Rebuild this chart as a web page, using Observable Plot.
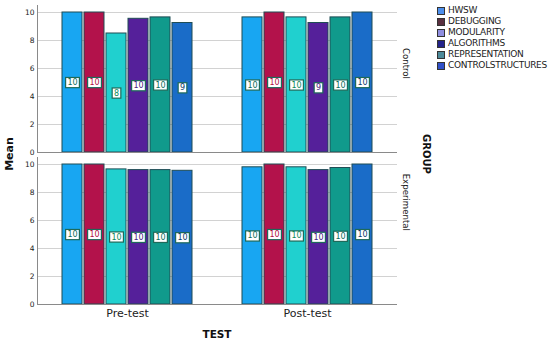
<!DOCTYPE html>
<html><head><meta charset="utf-8">
<script src="https://cdn.jsdelivr.net/npm/d3@7"></script>
<script src="https://cdn.jsdelivr.net/npm/@observablehq/plot@0.6"></script>
<style>
body{margin:0;background:#fff;}
#wrap{position:relative;width:550px;height:344px;font-family:"DejaVu Sans",sans-serif;overflow:hidden;}
.ttl{position:absolute;font-weight:bold;color:#111;white-space:nowrap;transform-origin:center center;}
#legend{position:absolute;left:437px;top:5px;font-size:9px;letter-spacing:-0.3px;color:#222;}
#legend .row{height:11px;line-height:11px;display:flex;align-items:center;white-space:nowrap;}
#legend .sw{width:8px;height:8px;border:1px solid #333;box-sizing:border-box;margin-right:3px;flex:none;}
</style></head><body><div id="wrap"></div>
<script>
const categories = ["HWSW","DEBUGGING","MODULARITY","ALGORITHMS","REPRESENTATION","CONTROLSTRUCTURES"];
const tests = ["Pre-test","Post-test"];
const groups = ["Control","Experimental"];
const controlPre = [10, 10, 8.5, 9.55, 9.65, 9.25];
const controlPost = [9.65, 10, 9.65, 9.25, 9.65, 10];
const experimentalPre = [10, 10, 9.65, 9.6, 9.6, 9.55];
const experimentalPost = [9.8, 10, 9.8, 9.6, 9.75, 10];
const controlPreN = [10, 10, 8, 10, 10, 9];
const controlPostN = [10, 10, 10, 9, 10, 10];
const experimentalPreN = [10, 10, 10, 10, 10, 10];
const experimentalPostN = [10, 10, 10, 10, 10, 10];
const yTicks = [0, 2, 4, 6, 8, 10];
const barColors = ["#18a6f2", "#b3124b", "#20d0cf", "#55209a", "#109a8c", "#1a6cc8"];
const legendColors = ["#4d8fec", "#5a3040", "#8f8ee0", "#23238a", "#4d8a9a", "#3050c8"];
const labelColors = ["#0b6b5a", "#b01040", "#0b8a5a", "#4a1a80", "#0b6b5a", "#0a3a6a"];

const series = [
  ["Control", "Pre-test", controlPre, controlPreN],
  ["Control", "Post-test", controlPost, controlPostN],
  ["Experimental", "Pre-test", experimentalPre, experimentalPreN],
  ["Experimental", "Post-test", experimentalPost, experimentalPostN]
];
const rows = [];
for (const [group, test, vals, ns] of series) {
  categories.forEach((cat, i) => rows.push({group, test, cat, mean: vals[i], n: ns[i]}));
}
const strips = groups.map(g => ({group: g, test: "Post-test"}));

const chart = Plot.plot({
  width: 550, height: 344,
  marginLeft: 36, marginRight: 153, marginTop: 5, marginBottom: 40,
  style: {fontFamily: "DejaVu Sans, sans-serif", background: "white", color: "#222"},
  fx: {domain: tests, paddingInner: 0, paddingOuter: 0, label: null},
  fy: {domain: groups, paddingInner: 0.034, paddingOuter: 0, label: null, axis: null},
  x: {domain: categories, paddingInner: 0.087, paddingOuter: 0.967, axis: null},
  y: {domain: [0, 10.5], label: null},
  color: {domain: categories, range: barColors},
  marks: [
    Plot.gridY(yTicks, {stroke: "#d2d2d2", strokeOpacity: 1}),
    Plot.barY(rows, {fx: "test", fy: "group", x: "cat", y: "mean", fill: "cat", stroke: "#1f4d55", strokeWidth: 1}),
    Plot.ruleY([0], {stroke: "#8a8a8a"}),
    Plot.frame({anchor: "left", stroke: "#8a8a8a", fx: "Pre-test"}),
    Plot.axisY(yTicks, {anchor: "left", tickSize: 0, tickPadding: 3, fontSize: 7.5, label: null}),
    Plot.axisFx({anchor: "bottom", tickSize: 0, tickPadding: 5, fontSize: 11, label: null}),
    Plot.text(rows, {fx: "test", fy: "group", x: "cat", y: d => d.mean / 2, text: "n", fontSize: 8,
      fill: d => labelColors[categories.indexOf(d.cat)], className: "barlbl"}),
    Plot.text(strips, {fx: "test", fy: "group", text: "group", frameAnchor: "right", rotate: 90, dx: 8.5, fontSize: 8.6, fill: "#222"})
  ]
});

const wrap = document.getElementById("wrap");
wrap.append(chart);

// boxes behind bar labels
d3.select(chart).selectAll("g.barlbl text").each(function() {
  const b = this.getBBox();
  const px = 1.8, py = 0.6;
  const r = document.createElementNS("http://www.w3.org/2000/svg", "rect");
  r.setAttribute("x", b.x - px);
  r.setAttribute("y", b.y - py);
  r.setAttribute("width", b.width + 2 * px);
  r.setAttribute("height", b.height + 2 * py);
  r.setAttribute("fill", "white");
  r.setAttribute("stroke", "#1e6a5a");
  r.setAttribute("stroke-width", "1.2");
  const t = this.getAttribute("transform");
  if (t) r.setAttribute("transform", t);
  this.parentNode.insertBefore(r, this);
});

// legend
const legend = document.createElement("div");
legend.id = "legend";
categories.forEach((c, i) => {
  const row = document.createElement("div");
  row.className = "row";
  const sw = document.createElement("div");
  sw.className = "sw";
  sw.style.background = legendColors[i];
  const tx = document.createElement("span");
  tx.textContent = c;
  row.append(sw, tx);
  legend.append(row);
});
wrap.append(legend);

// axis titles
function title(text, cx, cy, rot, size) {
  const d = document.createElement("div");
  d.className = "ttl";
  d.textContent = text;
  d.style.fontSize = size + "px";
  d.style.left = cx + "px";
  d.style.top = cy + "px";
  d.style.transform = `translate(-50%,-50%) rotate(${rot}deg)`;
  wrap.append(d);
}
title("Mean", 9, 154, -90, 11);
title("GROUP", 426, 154, 90, 10);
title("TEST", 217, 334, 0, 10.5);
</script>
</body></html>
